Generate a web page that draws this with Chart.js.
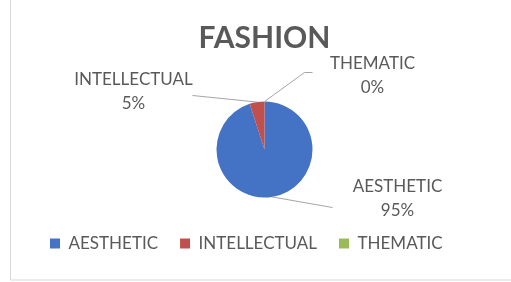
<!DOCTYPE html>
<html>
<head>
<meta charset="utf-8">
<script src="https://cdn.jsdelivr.net/npm/chart.js@4"></script>
<style>
  html, body { margin: 0; padding: 0; background: #fff; }
</style>
</head>
<body>
<canvas id="canvas1" width="511" height="282"></canvas>
<script>
// data
var categories = ["AESTHETIC", "INTELLECTUAL", "THEMATIC"];
var percents = [95, 5, 0];
var colors = ["#4472C4", "#C0504D", "#9BBB59"];

// where each data label sits, relative to the pie centre (px)
var labelOffsets = [[133, 49], [-131, -58], [108, -74]];
// where each leader line leaves the label, relative to the pie centre
var leaderStarts = [[68, 58], [-72, -54], [[48, -77], [40, -77]]];

var textGray = "#595959";
var fontFamily = "Lato, 'Open Sans', sans-serif";

var frame = {
  id: 'frame',
  beforeDraw: function(chart) {
    var c = chart.ctx;
    c.save();
    c.fillStyle = '#fff';
    c.fillRect(0, 0, chart.width, chart.height);
    c.strokeStyle = '#d9d9d9';
    c.lineWidth = 1;
    c.strokeRect(10.5, -1, chart.width, 281);
    c.restore();
  }
};

var pieLabels = {
  id: 'pieLabels',
  afterDatasetsDraw: function(chart) {
    var c = chart.ctx;
    var meta = chart.getDatasetMeta(0);
    c.save();
    c.font = "17px " + fontFamily;
    c.fillStyle = textGray;
    c.textAlign = 'center';
    c.textBaseline = 'middle';
    meta.data.forEach(function(arc, i) {
      var p = arc.getProps(['x', 'y', 'startAngle', 'endAngle', 'outerRadius'], true);
      var mid = (p.startAngle + p.endAngle) / 2;
      var ax = p.x + Math.cos(mid) * p.outerRadius;
      var ay = p.y + Math.sin(mid) * p.outerRadius;
      // leader line
      var pts = leaderStarts[i];
      if (typeof pts[0] === 'number') pts = [pts];
      c.strokeStyle = '#a6a6a6';
      c.lineWidth = 1;
      c.beginPath();
      c.moveTo(p.x + pts[0][0], p.y + pts[0][1]);
      for (var k = 1; k < pts.length; k++) c.lineTo(p.x + pts[k][0], p.y + pts[k][1]);
      c.lineTo(ax, ay);
      c.stroke();
      // text
      var lx = p.x + labelOffsets[i][0];
      var ly = p.y + labelOffsets[i][1];
      c.fillText(categories[i], lx, ly - 12);
      c.fillText(percents[i] + '%', lx, ly + 12);
    });
    c.restore();
  }
};

var ctx = document.getElementById("canvas1").getContext("2d");
window.myPie = new Chart(ctx, {
  type: 'pie',
  data: {
    labels: categories,
    datasets: [{
      data: percents,
      backgroundColor: colors,
      borderWidth: 0,
      radius: 48
    }]
  },
  options: {
    responsive: false,
    animation: false,
    devicePixelRatio: 1,
    layout: { padding: { left: 28, right: 10, top: 0, bottom: 20 } },
    plugins: {
      title: {
        display: true,
        text: 'FASHION',
        color: textGray,
        font: { family: fontFamily, size: 30, weight: 'bold' },
        padding: { top: 20, bottom: 30 }
      },
      legend: {
        position: 'bottom',
        align: 'start',
        labels: {
          color: textGray,
          font: { family: fontFamily, size: 17 },
          boxWidth: 10,
          boxHeight: 10,
          padding: 22
        }
      },
      tooltip: { enabled: false }
    }
  },
  plugins: [frame, pieLabels]
});
</script>
</body>
</html>
